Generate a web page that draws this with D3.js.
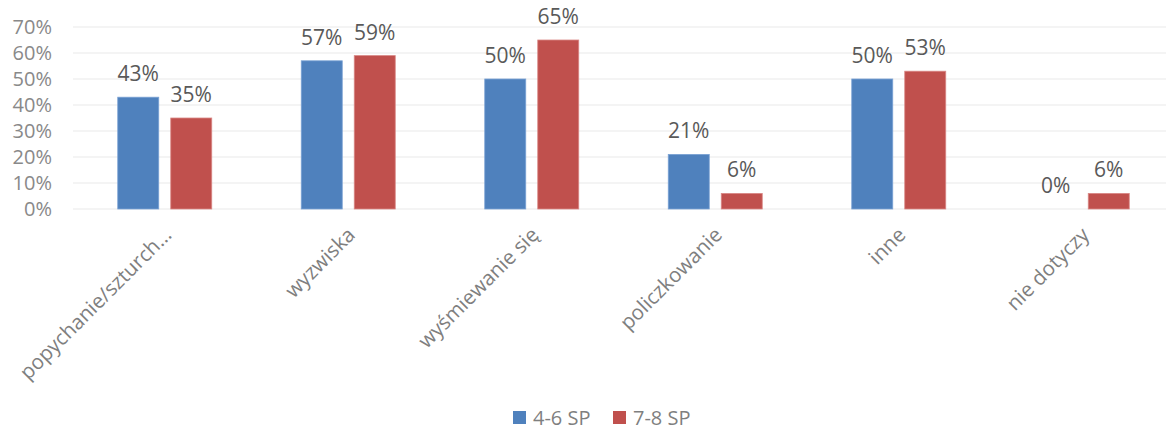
<!DOCTYPE html>
<html lang="pl">
  <head>
    <meta charset="utf-8">
    <title>Wykres</title>
    <script src="https://d3js.org/d3.v7.min.js"></script>
    <style>
      body { margin: 0; background: #fff; }
      text { font-family: "Open Sans", "DejaVu Sans", sans-serif; }
    </style>
  </head>
  <body>
    <div id="main"></div>
    <script>
      var categories = ["popychanie/szturch...", "wyzwiska", "wyśmiewanie się", "policzkowanie", "inne", "nie dotyczy"];
      var seriesNames = ["4-6 SP", "7-8 SP"];
      var values46 = [43, 57, 50, 21, 50, 0];
      var values78 = [35, 59, 65, 6, 53, 6];
      var yTicks = [0, 10, 20, 30, 40, 50, 60, 70];
      var colors = ["#4F81BD", "#C0504D"];

      var width = 1168, height = 432;
      var plotLeft = 73, plotRight = 1174, plotTop = 27, plotBottom = 209;

      var svg = d3.select("#main").append("svg")
        .attr("width", width)
        .attr("height", height);

      var x = d3.scaleBand().domain(categories).range([plotLeft, plotRight]);
      var y = d3.scaleLinear().domain([0, 70]).range([plotBottom, plotTop]);
      var barW = 41, gap = 12;

      // gridlines
      svg.selectAll(".grid").data(yTicks).enter().append("line")
        .attr("x1", plotLeft).attr("x2", 1166)
        .attr("y1", function(d) { return y(d); })
        .attr("y2", function(d) { return y(d); })
        .attr("stroke", "#f0f0f0")
        .attr("stroke-width", 1.5);

      // y axis labels
      svg.selectAll(".ytick").data(yTicks).enter().append("text")
        .attr("x", 52)
        .attr("y", function(d) { return y(d) + 7; })
        .attr("text-anchor", "end")
        .attr("fill", "#898989")
        .style("font-size", "20px")
        .text(function(d) { return d + "%"; });

      var series = [values46, values78];
      series.forEach(function(vals, s) {
        var rows = categories.map(function(c, i) { return {c: c, v: vals[i]}; });
        var offset = s === 0 ? -(barW + gap / 2) : gap / 2;
        var g = svg.append("g");
        g.selectAll("rect").data(rows.filter(function(d) { return d.v > 0; })).enter().append("rect")
          .attr("x", function(d) { return x(d.c) + x.bandwidth() / 2 + offset; })
          .attr("y", function(d) { return y(d.v); })
          .attr("width", barW)
          .attr("height", function(d) { return plotBottom - y(d.v); })
          .attr("fill", colors[s])
          .attr("stroke", s === 0 ? "#7aa2d4" : "#d98886")
          .attr("stroke-width", 0.8);
        g.selectAll("text").data(rows).enter().append("text")
          .attr("x", function(d) { return x(d.c) + x.bandwidth() / 2 + offset + barW / 2; })
          .attr("y", function(d) { return y(d.v) - 16; })
          .attr("text-anchor", "middle")
          .attr("fill", "#595959")
          .style("font-size", "21px")
          .text(function(d) { return d.v + "%"; });
      });

      // category labels
      svg.selectAll(".cat").data(categories).enter().append("text")
        .attr("transform", function(d) {
          return "translate(" + (x(d) + x.bandwidth() / 2 - 2) + "," + 226 + ") rotate(-45)";
        })
        .attr("dy", "0.7em")
        .attr("text-anchor", "end")
        .attr("fill", "#7f7f7f")
        .style("font-size", "20.5px")
        .text(function(d) { return d; });

      // legend
      var legend = svg.selectAll(".legend").data(seriesNames).enter().append("g")
        .attr("transform", function(d, i) { return "translate(" + (513 + i * 100) + ",411)"; });
      legend.append("rect")
        .attr("width", 13).attr("height", 13)
        .attr("fill", function(d, i) { return colors[i]; });
      legend.append("text")
        .attr("x", 20).attr("y", 14)
        .attr("fill", "#7f7f7f")
        .style("font-size", "20px")
        .text(function(d) { return d; });
    </script>
  </body>
</html>
